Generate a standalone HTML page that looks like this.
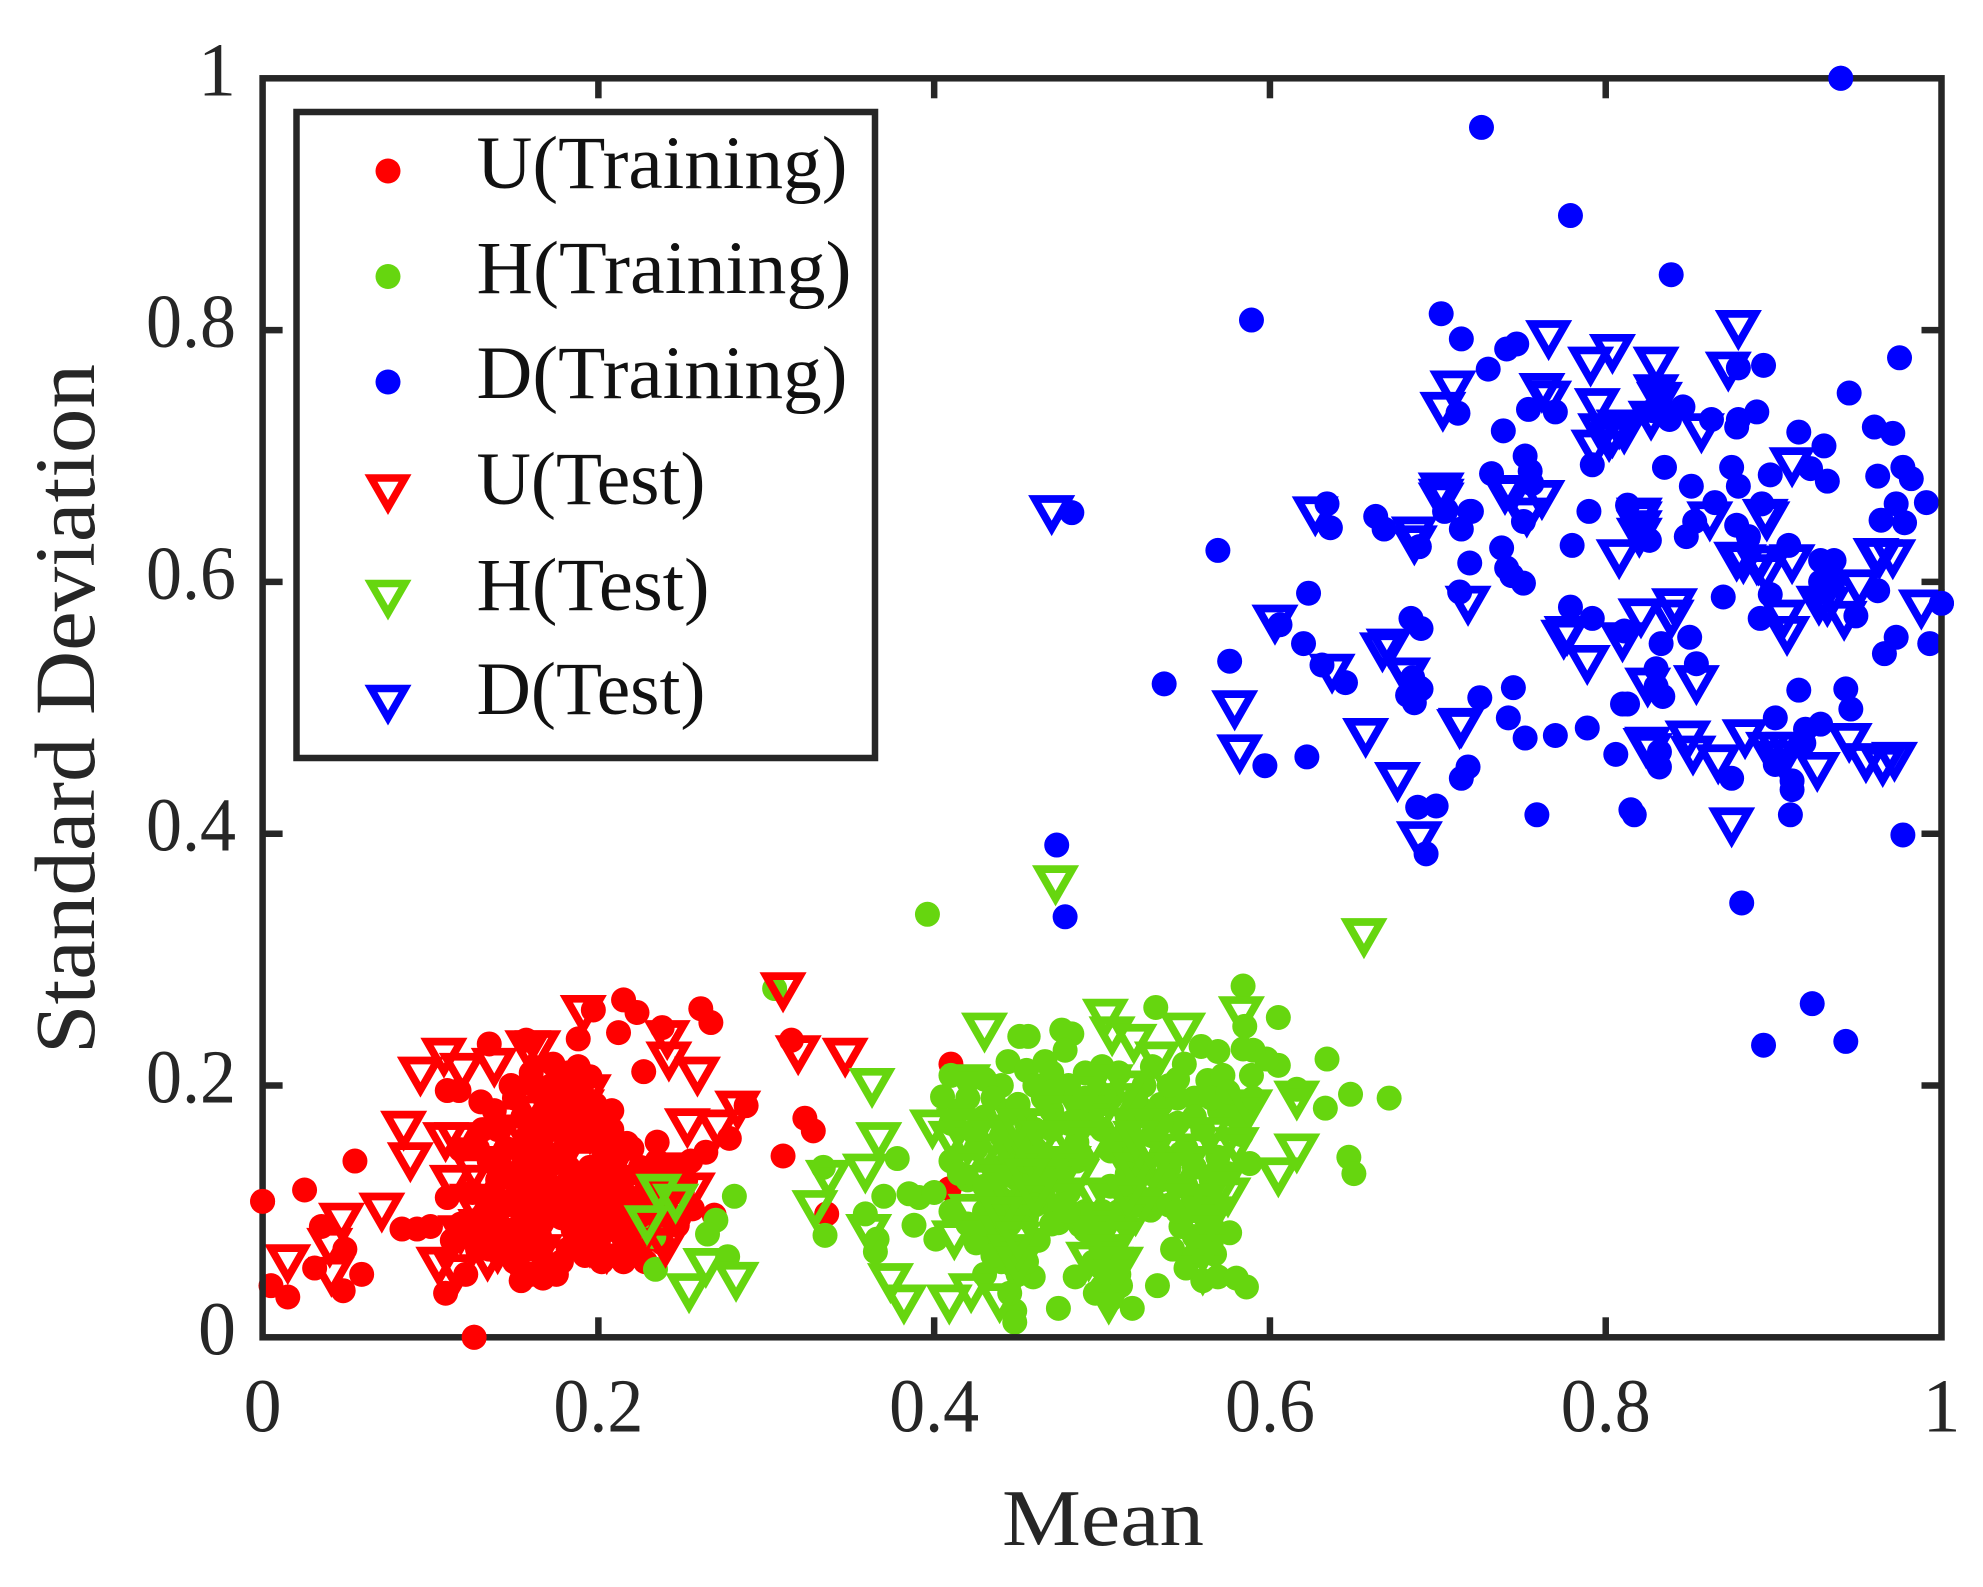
<!DOCTYPE html>
<html lang="en">
<head>
<meta charset="utf-8">
<title>Mean vs Standard Deviation scatter</title>
<style>
html,body{margin:0;padding:0;background:#fff;}
svg{display:block;}
text{font-family:"Liberation Serif",serif;}
</style>
</head>
<body>
<svg id="chart" xmlns="http://www.w3.org/2000/svg" width="1983" height="1587" viewBox="0 0 1983 1587">
  <rect x="0" y="0" width="1983" height="1587" fill="#ffffff"/>
  <g id="marks"></g>
  <rect x="262.6" y="78.3" width="1678.9" height="1259" fill="none" stroke="#262626" stroke-width="6.5"/>
  <g id="ticks"></g>
  <g id="redraw"></g>
  <text x="1103" y="1545" font-size="80" fill="#262626" text-anchor="middle" textLength="202" lengthAdjust="spacingAndGlyphs">Mean</text>
  <text transform="translate(94 709) rotate(-90)" font-size="86" fill="#262626" text-anchor="middle" textLength="690" lengthAdjust="spacingAndGlyphs">Standard Deviation</text>
  <g>
    <rect x="296.5" y="112" width="578.5" height="646" fill="#ffffff" stroke="#262626" stroke-width="6.5"/>
    <circle cx="388" cy="171" r="12.5" fill="#ff0000"/>
    <circle cx="388" cy="276.5" r="12.5" fill="#66d60f"/>
    <circle cx="388" cy="382" r="12.5" fill="#0000ff"/>
    <polygon points="371,478 405,478 388,507.5" fill="none" stroke="#ff0000" stroke-width="7.5" stroke-miterlimit="10"/>
    <polygon points="371,583.5 405,583.5 388,613" fill="none" stroke="#66d60f" stroke-width="7.5" stroke-miterlimit="10"/>
    <polygon points="371,688.5 405,688.5 388,718" fill="none" stroke="#0000ff" stroke-width="7.5" stroke-miterlimit="10"/>
    <text x="476.5" y="188" font-size="75" fill="#111111" textLength="371" lengthAdjust="spacingAndGlyphs">U(Training)</text>
    <text x="476.5" y="293" font-size="75" fill="#111111" textLength="375" lengthAdjust="spacingAndGlyphs">H(Training)</text>
    <text x="476.5" y="398" font-size="75" fill="#111111" textLength="371" lengthAdjust="spacingAndGlyphs">D(Training)</text>
    <text x="476.5" y="504" font-size="75" fill="#111111" textLength="229" lengthAdjust="spacingAndGlyphs">U(Test)</text>
    <text x="476.5" y="610" font-size="75" fill="#111111" textLength="233" lengthAdjust="spacingAndGlyphs">H(Test)</text>
    <text x="476.5" y="714" font-size="75" fill="#111111" textLength="229" lengthAdjust="spacingAndGlyphs">D(Test)</text>
  </g>
</svg>
<script>
const xTickValues = [0, 0.2, 0.4, 0.6, 0.8, 1];
const yTickValues = [0, 0.2, 0.4, 0.6, 0.8, 1];
const xTickLabels = ["0", "0.2", "0.4", "0.6", "0.8", "1"];
const yTickLabels = ["0", "0.2", "0.4", "0.6", "0.8", "1"];

const uTraining = [
[0,.108],[.025,.117],[.055,.140],[.005,.041],[.015,.032],[.035,.088],[.049,.070],[.031,.055],[.059,.050],[.048,.037],
[.083,.086],[.092,.086],[.100,.088],[.113,.077],[.126,0],[.109,.035],[.121,.050],[.154,.045],[.167,.047],[.110,.111],
[.139,.091],[.110,.196],[.117,.196],[.130,.187],[.135,.233],[.157,.236],[.197,.260],[.188,.237],[.215,.268],[.223,.258],
[.212,.242],[.227,.211],[.173,.217],[.188,.215],[.195,.207],[.195,.178],[.131,.165],[.118,.149],[.203,.159],[.217,.154],
[.235,.155],[.238,.246],[.261,.261],[.267,.250],[.315,.236],[.323,.174],[.328,.164],[.310,.144],[.288,.184],[.278,.158],
[.264,.147],[.269,.097],[.256,.102],[.247,.089],[.219,.081],[.336,.098],[.410,.217],[.409,.118],
[.14,.165],[.15,.19],[.155,.175],[.162,.2],[.17,.185],[.175,.165],[.18,.2],[.185,.18],[.19,.195],[.2,.17],
[.145,.15],[.155,.145],[.165,.155],[.18,.15],[.19,.16],[.205,.15],[.21,.14],[.22,.15],[.225,.135],[.235,.14],
[.245,.13],[.255,.14],[.14,.125],[.15,.13],[.16,.12],[.17,.135],[.185,.125],[.195,.135],[.2,.12],[.215,.115],
[.23,.12],[.24,.105],[.25,.115],[.145,.105],[.155,.095],[.17,.105],[.18,.11],[.19,.1],[.205,.095],[.215,.09],
[.225,.1],[.235,.09],[.16,.07],[.15,.06],[.165,.08],[.185,.085],[.195,.08],[.2,.075],[.21,.065],[.225,.07],
[.215,.06],[.135,.14],[.125,.115],[.13,.095],[.16,.05],[.175,.05],
[.128,.15],[.138,.18],[.148,.2],[.158,.16],[.168,.19],[.172,.145],[.178,.175],[.188,.165],[.198,.185],[.208,.165],
[.142,.135],[.152,.115],[.162,.135],[.172,.12],[.182,.135],[.192,.12],[.202,.135],[.212,.125],[.222,.11],[.232,.105],
[.242,.12],[.252,.125],[.138,.11],[.148,.085],[.158,.105],[.168,.095],[.178,.095],[.188,.11],[.198,.105],[.208,.105],
[.218,.1],[.228,.085],[.238,.1],[.158,.085],[.182,.07],[.192,.065],[.202,.06],[.218,.07],[.228,.06],[.238,.075],
[.248,.095],[.148,.07],[.168,.06],[.178,.06],[.142,.08],[.135,.07],[.125,.085],[.118,.09],[.128,.07],[.208,.18],
[.172,.2],[.182,.21],[.16,.21]
];
const hTraining = [
[.305,.277],[.281,.112],[.270,.093],[.265,.082],[.233,.080],[.234,.054],[.277,.064],[.335,.081],[.334,.135],[.370,.112],
[.388,.089],[.401,.078],[.366,.078],[.365,.068],[.391,.111],[.385,.114],[.378,.142],[.359,.098],[.410,.208],[.405,.191],
[.444,.219],[.451,.239],[.456,.239],[.476,.244],[.482,.241],[.478,.228],[.455,.212],[.466,.219],[.532,.262],[.584,.279],
[.605,.254],[.585,.247],[.634,.221],[.648,.193],[.671,.190],[.633,.182],[.616,.197],[.647,.143],[.650,.130],[.588,.138],
[.583,.161],[.576,.083],[.605,.216],[.598,.221],[.590,.228],[.584,.229],[.589,.208],[.583,.182],[.559,.231],[.569,.227],
[.549,.217],[.563,.204],[.572,.208],[.462,.077],[.474,.023],[.533,.041],[.484,.048],[.459,.048],[.448,.056],[.448,.021],
[.448,.012],[.440,.073],[.496,.035],[.518,.023],[.511,.041],[.474,.091],[.487,.089],[.453,.114],[.529,.101],[.542,.070],
[.567,.066],[.560,.045],[.569,.048],[.580,.047],[.586,.040],[.547,.146],[.569,.143],[.557,.080],[.547,.088],[.396,.336],
[.42,.19],[.43,.175],[.44,.16],[.425,.15],[.41,.14],[.42,.125],[.435,.135],[.445,.145],[.455,.17],[.465,.19],
[.47,.165],[.48,.2],[.49,.18],[.46,.15],[.475,.14],[.485,.155],[.495,.17],[.505,.19],[.515,.175],[.525,.2],
[.535,.185],[.545,.17],[.555,.19],[.51,.155],[.52,.145],[.53,.16],[.54,.135],[.55,.15],[.56,.165],[.57,.18],
[.505,.12],[.52,.115],[.535,.125],[.48,.115],[.49,.1],[.465,.12],[.45,.125],[.44,.11],[.43,.1],[.445,.09],
[.455,.095],[.47,.105],[.5,.1],[.515,.09],[.505,.07],[.5,.055],[.51,.05],[.44,.06],[.45,.07],[.435,.08],
[.425,.075],[.43,.05],[.445,.035],[.55,.1],[.56,.11],[.565,.09],[.555,.065],[.55,.12],[.58,.175],[.59,.19],
[.42,.09],[.41,.1],[.4,.115],[.47,.21],[.49,.21],[.51,.21],[.53,.215],[.545,.205],[.46,.2],[.44,.2],[.43,.205],[.42,.205],
[.415,.18],[.425,.165],[.435,.19],[.445,.18],[.45,.155],[.46,.165],[.47,.18],[.48,.17],[.49,.19],[.5,.165],
[.505,.148],[.515,.16],[.525,.18],[.535,.17],[.545,.19],[.555,.175],[.565,.19],[.575,.195],[.415,.13],[.43,.12],
[.445,.13],[.455,.14],[.465,.135],[.475,.125],[.485,.14],[.515,.13],[.525,.13],[.535,.145],[.545,.12],[.555,.135],
[.565,.125],[.43,.09],[.44,.095],[.45,.105],[.46,.105],[.47,.09],[.48,.1],[.49,.085],[.5,.075],[.51,.1],
[.52,.105],[.53,.11],[.54,.105],[.545,.1],[.555,.11],[.57,.105],[.575,.13],[.44,.075],[.45,.05],[.455,.06],
[.435,.065],[.5,.04],[.505,.03],[.495,.06],[.51,.065],[.555,.08],[.55,.055],[.565,.075],[.47,.195],[.5,.215],
[.52,.19],[.54,.2],[.45,.185],[.41,.17]
];
const dTraining = [
[.940,1],[.726,.961],[.779,.891],[.839,.844],[.589,.808],[.482,.655],[.975,.778],[.923,.265],[.894,.232],[.943,.235],
[.881,.345],[.473,.391],[.478,.334],[.702,.813],[.714,.793],[.741,.785],[.747,.789],[.730,.769],[.712,.734],[.754,.737],
[.770,.735],[.739,.720],[.894,.772],[.879,.770],[.945,.750],[.846,.739],[.838,.729],[.828,.736],[.830,.755],[.863,.729],
[.890,.735],[.879,.729],[.878,.723],[.960,.723],[.971,.718],[.915,.719],[.930,.708],[.792,.693],[.752,.700],[.755,.688],
[.732,.686],[.756,.678],[.835,.691],[.875,.691],[.898,.685],[.932,.680],[.922,.690],[.977,.691],[.982,.682],[.962,.684],
[.851,.676],[.879,.676],[.893,.662],[.991,.663],[.973,.662],[.964,.649],[.978,.647],[.790,.656],[.719,.656],[.704,.656],
[.714,.642],[.751,.648],[.813,.661],[.865,.663],[.853,.648],[.848,.636],[.878,.645],[.885,.636],[.909,.629],[.826,.633],
[.689,.628],[.738,.627],[.780,.629],[.719,.615],[.741,.611],[.744,.605],[.751,.599],[.713,.592],[.870,.588],[.898,.590],
[.928,.617],[.936,.617],[.928,.600],[.935,.597],[.962,.593],[1,.583],[.949,.573],[.892,.571],[.779,.580],[.792,.571],
[.684,.571],[.690,.563],[.811,.561],[.833,.551],[.850,.556],[.973,.556],[.966,.543],[.993,.551],[.854,.535],[.830,.531],
[.834,.509],[.830,.517],[.686,.516],[.686,.504],[.689,.516],[.725,.508],[.745,.516],[.742,.492],[.752,.476],[.770,.478],
[.789,.484],[.810,.503],[.813,.503],[.915,.514],[.943,.515],[.946,.499],[.901,.492],[.928,.487],[.919,.483],[.918,.472],
[.806,.463],[.832,.453],[.832,.465],[.875,.444],[.901,.455],[.911,.442],[.911,.435],[.718,.453],[.714,.444],[.688,.421],
[.699,.422],[.759,.415],[.815,.419],[.817,.415],[.910,.415],[.977,.399],[.693,.384],[.569,.625],[.634,.662],[.636,.643],
[.663,.652],[.668,.642],[.623,.591],[.606,.566],[.620,.551],[.576,.537],[.631,.534],[.645,.520],[.537,.519],[.685,.524],
[.690,.515],[.682,.510],[.622,.461],[.597,.454],[.705,.657],[.720,.656],[.930,.592],[.932,.608]
];
const uTest = [
[.310,.278],[.319,.228],[.347,.226],[.241,.240],[.242,.223],[.259,.211],[.283,.184],[.253,.170],[.271,.169],[.256,.119],
[.191,.260],[.108,.226],[.094,.211],[.119,.214],[.138,.218],[.158,.232],[.164,.232],[.084,.168],[.088,.143],[.109,.159],
[.116,.159],[.126,.134],[.113,.125],[.047,.095],[.071,.103],[.040,.075],[.015,.062],[.041,.052],[.105,.060],[.118,.085],
[.134,.064],[.116,.054],[.161,.064],[.194,.197],[.176,.192],
[.145,.175],[.16,.19],[.17,.17],[.18,.18],[.195,.165],[.135,.155],[.15,.16],[.16,.145],[.175,.135],[.19,.14],
[.205,.13],[.22,.125],[.235,.13],[.25,.135],[.145,.125],[.16,.11],[.175,.115],[.19,.105],[.205,.11],[.22,.1],
[.235,.105],[.15,.09],[.165,.09],[.155,.075],[.14,.07],[.17,.065],[.15,.065],[.185,.09],[.2,.085],[.215,.08],
[.195,.075],[.205,.07],[.225,.085],[.24,.075],
[.155,.165],[.165,.18],[.175,.155],[.185,.17],[.175,.19],[.19,.185],[.145,.14],[.155,.125],[.165,.125],[.18,.125],
[.195,.12],[.21,.12],[.225,.115],[.24,.12],[.17,.1],[.18,.1],[.2,.095],[.21,.095],[.23,.09],[.165,.07],
[.145,.08],[.19,.08],[.21,.075],[.155,.1],[.14,.1],[.13,.125],[.125,.11],[.13,.09]
];
const hTest = [
[.4723,.363],[.656,.321],[.430,.246],[.363,.202],[.367,.159],[.359,.134],[.337,.129],[.329,.105],[.361,.086],[.374,.047],
[.382,.030],[.409,.030],[.422,.039],[.439,.031],[.264,.059],[.254,.039],[.282,.048],[.246,.110],[.236,.118],[.229,.093],
[.399,.169],[.420,.205],[.422,.102],[.412,.081],[.440,.113],[.502,.257],[.506,.243],[.519,.237],[.533,.223],[.548,.246],
[.583,.259],[.588,.185],[.616,.192],[.616,.150],[.605,.131],[.492,.064],[.511,.060],[.504,.030],[.560,.053],[.567,.125],
[.557,.107],[.564,.163],[.507,.084],
[.41,.16],[.42,.155],[.415,.17],[.43,.15],[.445,.165],[.46,.17],[.475,.18],[.49,.175],[.5,.2],[.51,.19],
[.525,.17],[.54,.15],[.555,.15],[.57,.15],[.58,.155],[.47,.13],[.485,.13],[.495,.115],[.505,.11],[.52,.1],
[.53,.135],[.445,.115],[.455,.1],[.44,.085],[.445,.07],[.45,.06],[.5,.085],[.51,.08],[.505,.06],[.505,.05],
[.555,.09],[.56,.07],[.565,.1],[.57,.12],[.575,.115],[.46,.14],[.48,.16],[.51,.15],[.52,.135],[.43,.125],
[.42,.14],[.435,.16],[.45,.17],[.465,.16],[.48,.14],[.495,.155],[.505,.17],[.52,.16],[.53,.15],[.545,.135],
[.56,.14],[.475,.11],[.5,.095],[.515,.115],[.455,.13],[.44,.1],[.45,.08],[.505,.07],[.56,.085],[.55,.11],
[.5,.18],[.49,.195],[.505,.205],[.515,.2],[.46,.115]
];
const dTest = [
[.470,.657],[.627,.656],[.766,.796],[.804,.785],[.791,.775],[.830,.775],[.879,.804],[.873,.771],[.709,.756],[.703,.739],
[.762,.754],[.766,.748],[.832,.747],[.830,.753],[.795,.742],[.827,.732],[.808,.725],[.797,.722],[.793,.709],[.802,.715],
[.811,.721],[.804,.718],[.857,.722],[.911,.695],[.702,.675],[.702,.670],[.702,.667],[.740,.673],[.762,.669],[.753,.655],
[.744,.672],[.686,.633],[.686,.640],[.820,.655],[.820,.652],[.820,.645],[.820,.639],[.808,.622],[.862,.652],[.896,.652],
[.895,.654],[.878,.620],[.882,.618],[.891,.617],[.890,.617],[.911,.618],[.961,.623],[.971,.622],[.963,.622],[.718,.585],
[.951,.598],[.927,.585],[.942,.573],[.932,.584],[.988,.582],[.841,.583],[.821,.575],[.839,.574],[.906,.574],[.777,.561],
[.775,.558],[.810,.556],[.908,.561],[.789,.538],[.681,.528],[.825,.520],[.854,.522],[.714,.488],[.825,.473],[.824,.472],
[.849,.478],[.852,.466],[.867,.459],[.883,.479],[.903,.469],[.909,.469],[.897,.469],[.945,.476],[.926,.453],[.955,.460],
[.965,.457],[.972,.461],[.875,.409],[.689,.398],[.603,.570],[.671,.551],[.667,.548],[.637,.531],[.682,.528],[.713,.487],
[.579,.502],[.582,.467],[.657,.480],[.676,.445],[.826,.468],[.905,.462],[.895,.610]
];

const AX_LEFT = 262.6, AX_RIGHT = 1941.5, AX_TOP = 78.3, AX_BOTTOM = 1337.3;
const NS = "http://www.w3.org/2000/svg";
const RED = "#ff0000", GREEN = "#66d60f", BLUE = "#0000ff", INK = "#262626";
function xScale(v) { return AX_LEFT + v * (AX_RIGHT - AX_LEFT); }
function yScale(v) { return AX_BOTTOM - v * (AX_BOTTOM - AX_TOP); }

const marksLayer = document.getElementById("marks");
const ticksLayer = document.getElementById("ticks");

function drawDots(points, color, name) {
  points.forEach(function (p) {
    const el = document.createElementNS(NS, "circle");
    el.setAttribute("cx", xScale(p[0]).toFixed(2));
    el.setAttribute("cy", yScale(p[1]).toFixed(2));
    el.setAttribute("r", "12.5");
    el.setAttribute("fill", color);
    
    
    marksLayer.appendChild(el);
  });
}
function drawTriangles(points, color, name) {
  points.forEach(function (p) {
    const sx = xScale(p[0]), sy = yScale(p[1]);
    const el = document.createElementNS(NS, "polygon");
    el.setAttribute("points", (sx - 16.9).toFixed(2) + "," + (sy - 11.15).toFixed(2) + " " + (sx + 16.9).toFixed(2) + "," + (sy - 11.15).toFixed(2) + " " + sx.toFixed(2) + "," + (sy + 18.3).toFixed(2));
    el.setAttribute("fill", "none");
    el.setAttribute("stroke", color);
    el.setAttribute("stroke-width", "7.7");
    el.setAttribute("stroke-miterlimit", "10");
    
    
    marksLayer.appendChild(el);
  });
}
drawDots(uTraining, RED, "u-training-point");
drawDots(hTraining, GREEN, "h-training-point");
drawDots(dTraining, BLUE, "d-training-point");
drawTriangles(uTest, RED, "u-test-point");
drawTriangles(hTest, GREEN, "h-test-point");
drawTriangles(dTest, BLUE, "d-test-point");

function addLine(x1, y1, x2, y2, name) {
  const el = document.createElementNS(NS, "line");
  el.setAttribute("x1", x1);
  el.setAttribute("y1", y1);
  el.setAttribute("x2", x2);
  el.setAttribute("y2", y2);
  el.setAttribute("stroke", INK);
  el.setAttribute("stroke-width", "6.5");
  
  
  ticksLayer.appendChild(el);
}
function addLabel(x, y, anchor, str, name) {
  const el = document.createElementNS(NS, "text");
  el.setAttribute("x", x);
  el.setAttribute("y", y);
  el.setAttribute("font-size", "76");
  el.setAttribute("fill", INK);
  el.setAttribute("text-anchor", anchor);
  if (str.length > 1) {
    el.setAttribute("textLength", "90");
    el.setAttribute("lengthAdjust", "spacingAndGlyphs");
  }
  el.textContent = str;
  
  
  ticksLayer.appendChild(el);
}
const TICK_LEN = 20;
xTickValues.forEach(function (v, i) {
  const x = xScale(v);
  if (v > 0 && v < 1) {
    addLine(x, AX_BOTTOM, x, AX_BOTTOM - TICK_LEN, "x-tick-bottom");
    addLine(x, AX_TOP, x, AX_TOP + TICK_LEN, "x-tick-top");
  }
  addLabel(x, 1431.5, "middle", xTickLabels[i], "x-tick-label");
});
yTickValues.forEach(function (v, i) {
  const y = yScale(v);
  if (v > 0 && v < 1) {
    addLine(AX_LEFT, y, AX_LEFT + TICK_LEN, y, "y-tick-left");
    addLine(AX_RIGHT, y, AX_RIGHT - TICK_LEN, y, "y-tick-right");
  }
  addLabel(236, y + 17, "end", yTickLabels[i], "y-tick-label");
});

/* Points on the axis limits sit above the frame, so repeat them over the box. */
const redrawLayer = document.getElementById("redraw");
[[uTraining, RED, "u-training-edge-point"], [dTraining, BLUE, "d-training-edge-point"]].forEach(function (s) {
  s[0].forEach(function (p) {
    if (p[0] === 0 || p[0] === 1 || p[1] === 0 || p[1] === 1) {
      const el = document.createElementNS(NS, "circle");
      el.setAttribute("cx", xScale(p[0]).toFixed(2));
      el.setAttribute("cy", yScale(p[1]).toFixed(2));
      el.setAttribute("r", "12.5");
      el.setAttribute("fill", s[1]);
      
      
      redrawLayer.appendChild(el);
    }
  });
});
</script>
</body>
</html>
